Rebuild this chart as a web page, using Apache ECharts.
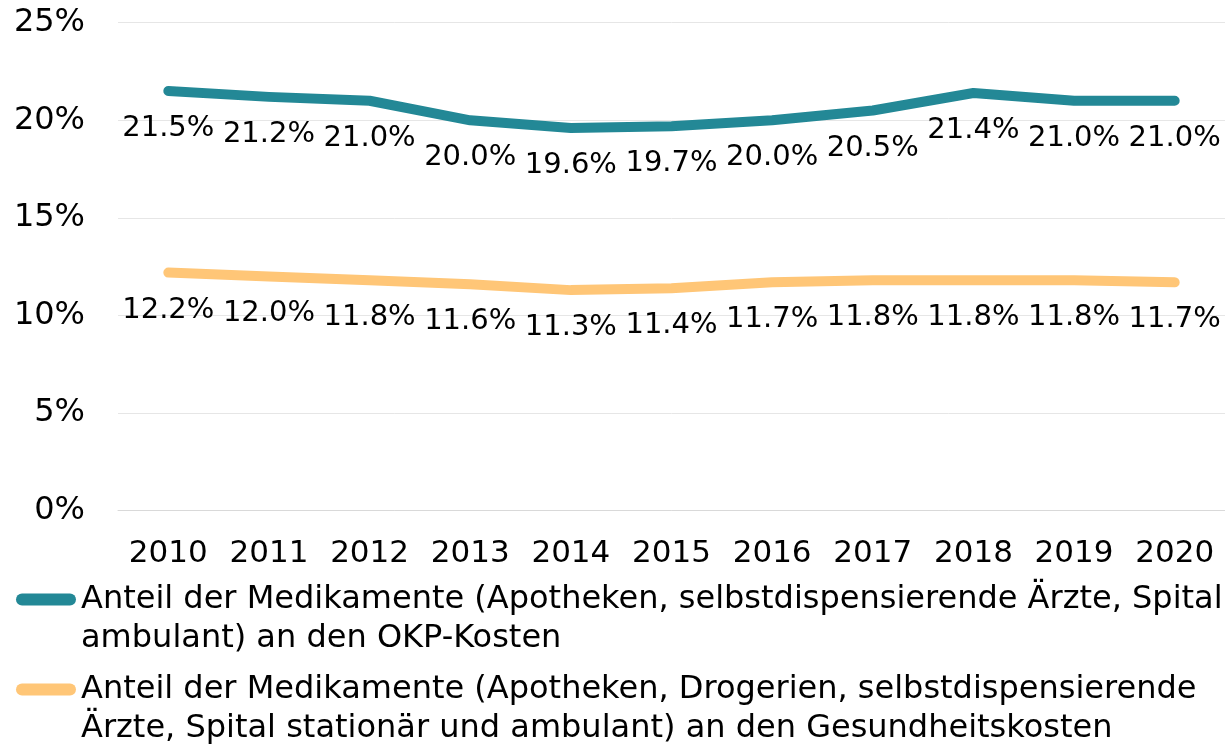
<!DOCTYPE html>
<html>
<head>
<meta charset="utf-8">
<script src="https://cdn.jsdelivr.net/npm/echarts@6/dist/echarts.min.js"></script>
<style>
  html, body { margin: 0; padding: 0; background: #fff; }
  #chart { width: 1225px; height: 744px; }
</style>
</head>
<body>
<div id="chart"></div>
<script>
// Daten
var years = ['2010', '2011', '2012', '2013', '2014', '2015', '2016', '2017', '2018', '2019', '2020'];
var okpAnteil = [21.5, 21.2, 21.0, 20.0, 19.6, 19.7, 20.0, 20.5, 21.4, 21.0, 21.0];
var gesundAnteil = [12.2, 12.0, 11.8, 11.6, 11.3, 11.4, 11.7, 11.8, 11.8, 11.8, 11.7];
var nameOkp = 'Anteil der Medikamente (Apotheken, selbstdispensierende Ärzte, Spital ambulant) an den OKP-Kosten';
var nameGesund = 'Anteil der Medikamente (Apotheken, Drogerien, selbstdispensierende Ärzte, Spital stationär und ambulant) an den Gesundheitskosten';
// Zeilenumbrüche der Legende (leere erste Zeile: Symbol sitzt auf Höhe der ersten Textzeile)
var legendLines = {};
legendLines[nameOkp] = '\nAnteil der Medikamente (Apotheken, selbstdispensierende Ärzte, Spital\nambulant) an den OKP-Kosten';
legendLines[nameGesund] = '\nAnteil der Medikamente (Apotheken, Drogerien, selbstdispensierende\nÄrzte, Spital stationär und ambulant) an den Gesundheitskosten';

var FONT = 'DejaVu Sans';
var chart = echarts.init(document.getElementById('chart'));

// Legendensymbol: Balken mit runden Enden
var barIcon = 'path://M6,0 L54,0 A6,6 0 0 1 54,12 L6,12 A6,6 0 0 1 6,0 Z';

function makeLegend(name, top) {
  return {
    data: [name],
    left: 11,
    top: top,
    orient: 'vertical',
    icon: barIcon,
    itemWidth: 60,
    itemHeight: 12,
    selectedMode: false,
    formatter: function (n) { return legendLines[n]; },
    textStyle: {
      fontFamily: FONT,
      fontSize: 32,
      lineHeight: 39,
      color: '#000'
    }
  };
}

function labelOpt() {
  return {
    show: true,
    position: 'bottom',
    distance: 22,
    fontFamily: FONT,
    fontSize: 29,
    color: '#000',
    formatter: function (p) { return p.value.toFixed(1) + '%'; }
  };
}

var option = {
  backgroundColor: '#fff',
  animation: false,
  color: ['#238896', '#FFC677'],
  grid: { left: 118, right: 0, top: 22.7, bottom: 233.3, containLabel: false },
  legend: [makeLegend(nameOkp, 536), makeLegend(nameGesund, 626)],
  xAxis: {
    type: 'category',
    data: years,
    boundaryGap: true,
    axisTick: { show: false },
    axisLine: { lineStyle: { color: '#d9d9d9', width: 1 } },
    axisLabel: { interval: 0, fontFamily: FONT, fontSize: 31, color: '#000', margin: 28 }
  },
  yAxis: {
    type: 'value',
    min: 0,
    max: 25,
    interval: 5,
    axisLine: { show: false },
    axisTick: { show: false },
    splitLine: { lineStyle: { color: '#e6e6e6', width: 1 } },
    axisLabel: { fontFamily: FONT, fontSize: 32, color: '#000', margin: 33, formatter: '{value}%' }
  },
  series: [
    {
      name: nameOkp,
      type: 'line',
      data: okpAnteil,
      symbol: 'circle',
      symbolSize: 2,
      lineStyle: { width: 10, cap: 'round', join: 'round' },
      label: labelOpt()
    },
    {
      name: nameGesund,
      type: 'line',
      data: gesundAnteil,
      symbol: 'circle',
      symbolSize: 2,
      lineStyle: { width: 10, cap: 'round', join: 'round' },
      label: labelOpt()
    }
  ]
};

chart.setOption(option);
</script>
</body>
</html>
